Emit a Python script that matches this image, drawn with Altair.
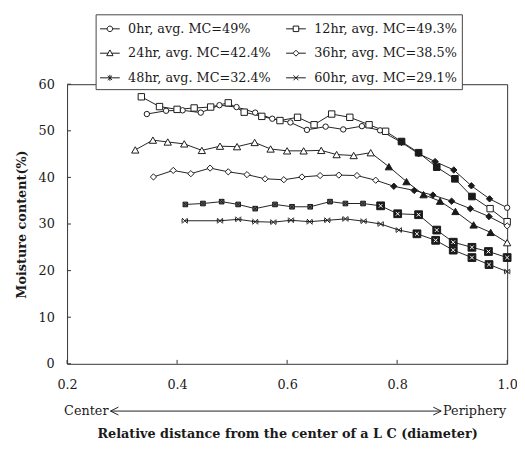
import altair as alt
import pandas as pd

# ---------------- data ----------------
series = ["0hr, avg. MC=49%", "12hr, avg. MC=49.3%", "24hr, avg. MC=42.4%",
          "36hr, avg. MC=38.5%", "48hr, avg. MC=32.4%", "60hr, avg. MC=29.1%"]

x_0 = [0.345, 0.38, 0.41, 0.443, 0.477, 0.508, 0.542, 0.573, 0.606, 0.636, 0.67,
       0.702, 0.736, 0.769, 0.808, 0.839, 0.869, 0.903, 0.935, 0.968, 1.0]
y_0 = [53.6, 54.3, 54.4, 53.9, 55.5, 55.1, 53.9, 52.6, 51.8, 50.2, 50.9,
       50.3, 51.0, 50.1, 47.5, 45.1, 43.4, 41.6, 38.2, 35.4, 33.5]

x_12 = [0.335, 0.368, 0.40, 0.431, 0.461, 0.493, 0.522, 0.554, 0.587, 0.619, 0.649,
        0.681, 0.714, 0.749, 0.779, 0.808, 0.839, 0.872, 0.905, 0.936, 0.969, 1.0]
y_12 = [57.3, 55.2, 54.6, 54.9, 55.1, 56.0, 54.0, 53.1, 52.2, 52.9, 51.3,
        53.6, 52.9, 51.3, 49.9, 47.7, 45.3, 42.2, 39.7, 35.9, 33.3, 30.5]

x_24 = [0.324, 0.356, 0.383, 0.413, 0.445, 0.478, 0.509, 0.541, 0.57, 0.60, 0.63,
        0.662, 0.69, 0.721, 0.752, 0.785, 0.817, 0.848, 0.878, 0.906, 0.939, 0.97, 1.0]
y_24 = [45.9, 48.0, 47.6, 47.2, 45.8, 46.7, 46.6, 47.5, 46.1, 45.7, 45.7,
        45.8, 44.9, 44.7, 45.3, 42.3, 39.1, 36.3, 34.9, 32.7, 29.8, 28.2, 26.0]

x_36 = [0.357, 0.393, 0.425, 0.46, 0.493, 0.527, 0.56, 0.594, 0.627, 0.66, 0.694,
        0.727, 0.761, 0.794, 0.831, 0.865, 0.899, 0.933, 0.967, 1.0]
y_36 = [40.1, 41.5, 40.8, 42.0, 41.2, 40.6, 39.7, 39.5, 40.1, 40.4, 40.5,
        40.4, 39.4, 38.1, 37.2, 36.2, 34.9, 33.3, 31.6, 29.6]

x_48 = [0.415, 0.447, 0.481, 0.511, 0.542, 0.578, 0.609, 0.642, 0.678, 0.706,
        0.738, 0.77, 0.801, 0.839, 0.872, 0.902, 0.936, 0.966, 1.0]
y_48 = [34.2, 34.4, 34.8, 34.2, 33.3, 34.2, 33.7, 33.7, 34.8, 34.4,
        34.4, 33.9, 32.2, 32.0, 28.7, 26.1, 25.0, 24.1, 22.8]

x_60 = [0.414, 0.478, 0.511, 0.542, 0.575, 0.607, 0.641, 0.673, 0.706, 0.739,
        0.77, 0.803, 0.836, 0.87, 0.902, 0.936, 0.967, 1.0]
y_60 = [30.7, 30.7, 31.0, 30.5, 30.4, 30.8, 30.5, 30.8, 31.1, 30.6,
        30.0, 28.7, 27.9, 26.5, 24.4, 22.8, 21.3, 19.8]

x_ticks = [0.2, 0.4, 0.6, 0.8, 1.0]
y_ticks = [0, 10, 20, 30, 40, 50, 60]

x_title = "Relative distance from the center of a L C (diameter)"
y_title = "Moisture content(%)"
left_label = "Center"
right_label = "Periphery"
arrow_span = [0.279, 0.880]

# ---------------- styles ----------------
P48 = "M-1,-1H1V1H-1ZM-1,-1L1,1M-1,1L1,-1"
P60 = "M-1,-1L1,1M-1,1L1,-1M-1,-0.7V0.7M1,-0.7V0.7"
XW = "M-0.55,-0.55L0.55,0.55M-0.55,0.55L0.55,-0.55"

open_shape = ["circle", "square", "triangle-up", "diamond", P48, P60]
open_fill = ["white", "white", "white", "white", "#666", "white"]
open_size = [30, 42, 55, 40, 22, 30]
filled_shape = ["diamond", "square", "triangle-up", "diamond", "square", "square"]
filled_size = [42, 45, 55, 42, 62, 62]
filled_range = [(14, 19), (15, 19), (15, 21), (13, 18), (11, 18), (12, 16)]

legend_paths = [
    "M-1,0H-0.28M0.28,0H1M0.28,0A0.28,0.28,0,1,1,-0.28,0A0.28,0.28,0,1,1,0.28,0",
    "M-1,0H-0.28M0.28,0H1M-0.28,-0.28H0.28V0.28H-0.28Z",
    "M-1,0H-0.18M0.18,0H1M0,-0.33L0.32,0.25H-0.32Z",
    "M-1,0H-0.3M0.3,0H1M0,-0.3L0.3,0L0,0.3L-0.3,0Z",
    "M-1,0H1M-0.22,-0.22L0.22,0.22M-0.22,0.22L0.22,-0.22M0,-0.3V0.3",
    "M-1,0H1M-0.25,-0.25L0.25,0.25M-0.25,0.25L0.25,-0.25",
]

FONT = "DejaVu Serif"
INK = "#1a1a1a"

xs = [x_0, x_12, x_24, x_36, x_48, x_60]
ys = [y_0, y_12, y_24, y_36, y_48, y_60]
rows = []
for i, (name, xx, yy) in enumerate(zip(series, xs, ys)):
    a, b = filled_range[i]
    for j, (xv, yv) in enumerate(zip(xx, yy)):
        f = a <= j <= b
        rows.append(dict(series=name, x=xv, y=yv, idx=j,
                         shp=filled_shape[i] if f else open_shape[i],
                         fil=INK if f else open_fill[i],
                         sz=filled_size[i] if f else open_size[i],
                         ov=bool(f and i in (4, 5))))
df = pd.DataFrame(rows)

xscale = alt.Scale(domain=[0.2, 1.0], nice=False, zero=False)
yscale = alt.Scale(domain=[0, 60], nice=False)
ax_x = alt.Axis(values=x_ticks, format=".1f", title=x_title,
                labelPadding=15, titlePadding=37, labelFlush=False)
ax_y = alt.Axis(values=y_ticks, format="d", title=y_title,
                labelPadding=13, titlePadding=10, labelFlush=False)


def X(field):
    return alt.X(field, scale=xscale, axis=ax_x)


def Y(field):
    return alt.Y(field, scale=yscale, axis=ax_y)


def XD(v):
    return alt.XDatum(datum=v, type="quantitative", scale=xscale, axis=ax_x)


lines = alt.Chart(df).mark_line(color="#222", strokeWidth=1).encode(
    x=X("x:Q"), y=Y("y:Q"), detail="series:N", order="idx:Q")

points = alt.Chart(df).mark_point(filled=True, opacity=1, stroke=INK, strokeWidth=1).encode(
    x=X("x:Q"), y=Y("y:Q"),
    shape=alt.Shape("shp:N", scale=None),
    fill=alt.Fill("fil:N", scale=None),
    size=alt.Size("sz:Q", scale=None))

overlay = alt.Chart(df).transform_filter("datum.ov").mark_point(
    shape=XW, filled=False, stroke="white", strokeWidth=1, size=45, opacity=1
).encode(x=X("x:Q"), y=Y("y:Q"))

legend_layer = alt.Chart(df).transform_filter("false").mark_point(
    filled=False, opacity=1, color=INK
).encode(
    x=X("x:Q"), y=Y("y:Q"),
    shape=alt.Shape("series:N", scale=alt.Scale(domain=series, range=legend_paths),
                    legend=alt.Legend(title=None, orient="none", legendX=29, legendY=-71,
                                      columns=2, direction="horizontal",
                                      strokeColor="#444", fillColor="white",
                                      padding=4, symbolSize=400, symbolStrokeWidth=1,
                                      symbolStrokeColor=INK, symbolFillColor="white",
                                      symbolOpacity=1, labelFont=FONT, labelFontSize=13,
                                      labelColor=INK, columnPadding=12, rowPadding=7,
                                      labelOffset=8)))

xt = alt.Chart(pd.DataFrame({"v": x_ticks})).mark_rule(color="#333").encode(
    x=X("v:Q"), y=alt.value(284), y2=alt.value(280))
yt = alt.Chart(pd.DataFrame({"v": y_ticks})).mark_rule(color="#333").encode(
    y=Y("v:Q"), x=alt.value(0), x2=alt.value(4))

one = alt.Data(values=[{"a": 1}])
ann_y = 332
t_left = alt.Chart(one).mark_text(text=left_label, align="left", baseline="middle",
                                  font=FONT, fontSize=13, color=INK, dx=-3).encode(
    x=XD(0.2), y=alt.value(ann_y))
t_right = alt.Chart(one).mark_text(text=right_label, align="right", baseline="middle",
                                   font=FONT, fontSize=13, color=INK, dx=-1).encode(
    x=XD(1.0), y=alt.value(ann_y))
shaft = alt.Chart(one).mark_rule(color="#222", strokeWidth=1).encode(
    x=XD(arrow_span[0]), x2=alt.X2Datum(datum=arrow_span[1]), y=alt.value(ann_y))
head_l = alt.Chart(one).mark_point(shape="M1,-0.5L0,0L1,0.5", filled=False, stroke="#222",
                                   strokeWidth=1, size=256, opacity=1).encode(
    x=XD(arrow_span[0]), y=alt.value(ann_y))
head_r = alt.Chart(one).mark_point(shape="M-1,-0.5L0,0L-1,0.5", filled=False, stroke="#222",
                                   strokeWidth=1, size=256, opacity=1).encode(
    x=XD(arrow_span[1]), y=alt.value(ann_y))

chart = alt.layer(lines, points, overlay, xt, yt, t_left, t_right, shaft, head_l, head_r,
                  legend_layer).resolve_scale(shape="independent").properties(
    width=447, height=284,
    autosize=alt.AutoSizeParams(type="none"),
    padding={"left": 60, "top": 74, "right": 10, "bottom": 76},
    background="white",
).configure_view(stroke="#333", strokeWidth=1).configure_axis(
    domain=False, ticks=False, tickSize=0, grid=False,
    labelFont=FONT, labelFontSize=13, labelColor=INK,
    titleFont=FONT, titleFontSize=13, titleFontWeight="bold", titleColor=INK,
)

chart.save("out.html", embed_options={"renderer": "svg", "actions": False})
